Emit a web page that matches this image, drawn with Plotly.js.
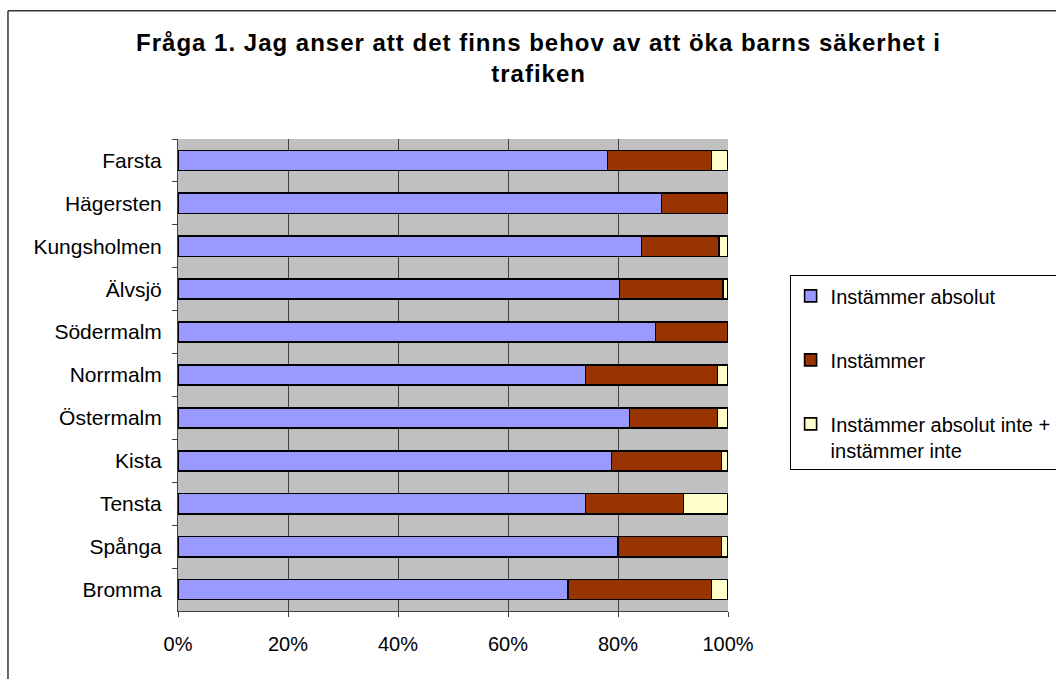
<!DOCTYPE html>
<html>
<head>
<meta charset="utf-8">
<script src="https://cdn.plot.ly/plotly-3.0.1.min.js"></script>
<style>
html,body{margin:0;padding:0;background:#fff;}
#chart{width:1056px;height:679px;}
#chart .gtitle{letter-spacing:1px;}
</style>
</head>
<body>
<div id="chart"></div>
<script>
const categories = ['Farsta','Hägersten','Kungsholmen','Älvsjö','Södermalm','Norrmalm','Östermalm','Kista','Tensta','Spånga','Bromma'];
const instammerAbsolut = [78.1, 87.9, 84.3, 80.3, 86.8, 74.1, 82.1, 78.8, 74.1, 80.0, 70.9];
const instammer = [18.9, 12.1, 14.1, 18.8, 13.2, 24.0, 16.0, 20.0, 17.8, 18.8, 26.1];
const instammerInte = [3.0, 0, 1.6, 0.9, 0, 1.9, 1.9, 1.2, 8.1, 1.2, 3.0];
const seriesNames = ['Instämmer absolut', 'Instämmer', 'Instämmer absolut inte +<br>instämmer inte'];
const xTickVals = [0, 20, 40, 60, 80, 100];
const xTickText = ['0%', '20%', '40%', '60%', '80%', '100%'];
const titleText = 'Fråga 1. Jag anser att det finns behov av att öka barns säkerhet i<br>trafiken';

const colors = ['#9999FF', '#993300', '#FFFFCC'];
const seriesValues = [instammerAbsolut, instammer, instammerInte];

const traces = seriesValues.map((vals, i) => ({
  type: 'bar',
  orientation: 'h',
  name: seriesNames[i],
  x: vals,
  y: categories,
  legendgroup: 'g' + i,
  marker: {color: colors[i], line: {color: '#000000', width: 1.6}},
  hoverinfo: 'x+y+name'
}));

const layout = {
  width: 1056,
  height: 679,
  paper_bgcolor: '#ffffff',
  plot_bgcolor: '#C0C0C0',
  font: {family: '"Liberation Sans", Arial, sans-serif', color: '#000000', size: 20},
  barmode: 'stack',
  bargap: 0.53,
  margin: {l: 178, r: 328, t: 138.5, b: 67.5, autoexpand: false},
  title: {
    text: titleText,
    font: {family: '"Liberation Sans", Arial, sans-serif', size: 24, color: '#000000', weight: 'bold'},
    x: 0.51, xanchor: 'center', xref: 'container',
    y: 0.9256, yanchor: 'top', yref: 'container'
  },
  xaxis: {
    range: [0, 100],
    tickvals: xTickVals,
    ticktext: xTickText,
    showgrid: true,
    gridcolor: '#404040',
    gridwidth: 1,
    zeroline: false,
    showline: true,
    linecolor: '#404040',
    linewidth: 1,
    ticks: 'outside',
    ticklen: 5,
    tickcolor: '#404040',
    ticklabelstandoff: 10,
    tickfont: {size: 20},
    fixedrange: true
  },
  yaxis: {
    autorange: 'reversed',
    type: 'category',
    showgrid: false,
    zeroline: false,
    showline: true,
    linecolor: '#404040',
    linewidth: 1,
    ticks: 'outside',
    tickson: 'boundaries',
    ticklen: 5,
    tickcolor: '#404040',
    ticklabelstandoff: 11,
    tickfont: {size: 21},
    fixedrange: true
  },
  showlegend: true,
  legend: {
    x: 1.112, xanchor: 'left', xref: 'paper',
    y: 0.711, yanchor: 'top', yref: 'paper',
    bgcolor: '#ffffff',
    bordercolor: '#000000',
    borderwidth: 1,
    traceorder: 'grouped',
    tracegroupgap: 35,
    valign: 'top',
    font: {size: 20},
    itemwidth: 30
  },
  shapes: [
    {type: 'line', xref: 'paper', yref: 'paper', x0: -0.3091, x1: 1.7, y0: 1.2717, y1: 1.2717, line: {color: '#333333', width: 1.5}},
    {type: 'line', xref: 'paper', yref: 'paper', x0: -0.3091, x1: -0.3091, y0: 1.2717, y1: -0.3, line: {color: '#333333', width: 1.5}}
  ]
};

Plotly.newPlot('chart', traces, layout, {displayModeBar: false, responsive: false});
</script>
</body>
</html>
